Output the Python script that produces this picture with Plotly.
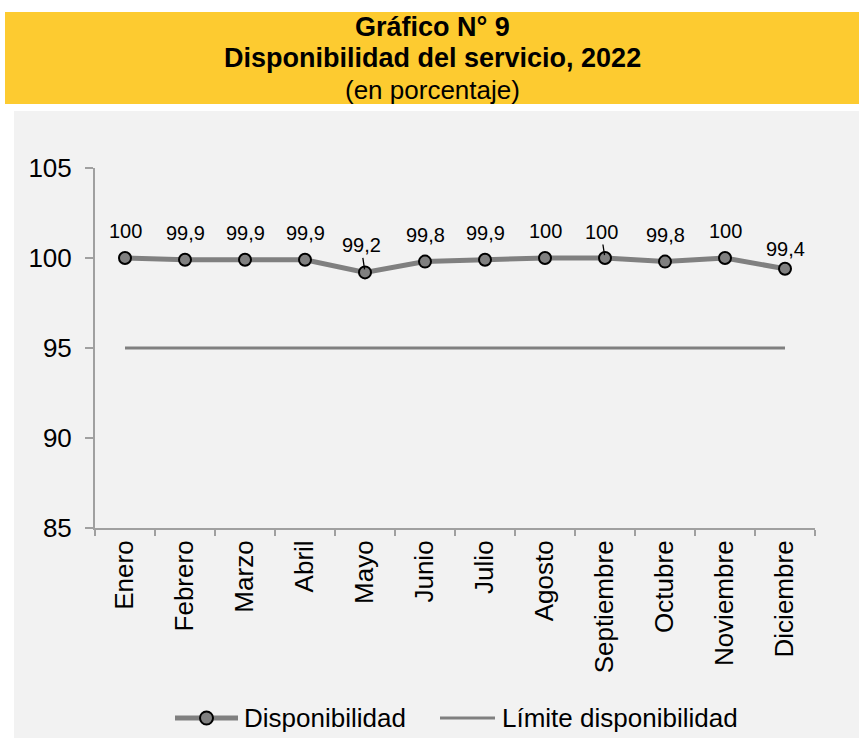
import plotly.graph_objects as go

# Monthly service availability, 2022 (percent)
meses = ["Enero", "Febrero", "Marzo", "Abril", "Mayo", "Junio", "Julio",
         "Agosto", "Septiembre", "Octubre", "Noviembre", "Diciembre"]
disponibilidad = [100, 99.9, 99.9, 99.9, 99.2, 99.8, 99.9, 100, 100, 99.8, 100, 99.4]
limite = [95, 95, 95, 95, 95, 95, 95, 95, 95, 95, 95, 95]
y_ticks = [85, 90, 95, 100, 105]

W, H = 859, 738
ML, MR, MT, MB = 95, 44, 168, 210
PW, PH = W - ML - MR, H - MT - MB


def px(x):
    return (x - ML) / PW


def py(y):
    return (H - MB - y) / PH


FONT = "Liberation Sans, Arial, sans-serif"
GRIS = "#808080"
AMARILLO = "#FDCB30"
FONDO = "#F2F2F2"
EJE = "#A0A0A0"

fig = go.Figure()
fig.add_trace(go.Scatter(
    x=meses, y=limite, name="Límite disponibilidad",
    mode="lines", line=dict(color=GRIS, width=3), showlegend=False,
))
fig.add_trace(go.Scatter(
    x=meses, y=disponibilidad, name="Disponibilidad",
    mode="lines+markers",
    line=dict(color=GRIS, width=5),
    marker=dict(size=12, color=GRIS, line=dict(color="#000000", width=2)),
    cliponaxis=False, showlegend=False,
))

annotations = []

# value labels above each point; two of them hang on a short leader line
leaders = {"Mayo": (-4, -27), "Septiembre": (-4, -26)}
for mes, v in zip(meses, disponibilidad):
    label = f"{v:g}".replace(".", ",")
    if mes in leaders:
        ax, ay = leaders[mes]
        annotations.append(dict(
            x=mes, y=v, text=label, showarrow=True, arrowhead=0,
            arrowwidth=1.3, arrowcolor="#000000", ax=ax, ay=ay, standoff=3,
            font=dict(family=FONT, size=20, color="#000000"),
        ))
    else:
        shift = 20 if mes == "Diciembre" else 27
        annotations.append(dict(
            x=mes, y=v, text=label, showarrow=False, yshift=shift,
            font=dict(family=FONT, size=20, color="#000000"),
        ))

cx = px(432)
annotations += [
    dict(text="<b>Gráfico N° 9</b>", x=cx, y=py(27), xref="paper", yref="paper",
         showarrow=False, font=dict(family=FONT, size=27, color="#000000"),
         xanchor="center", yanchor="middle"),
    dict(text="<b>Disponibilidad del servicio, 2022</b>", x=cx, y=py(58),
         xref="paper", yref="paper", showarrow=False,
         font=dict(family=FONT, size=27, color="#000000"),
         xanchor="center", yanchor="middle"),
    dict(text="(en porcentaje)", x=cx, y=py(90), xref="paper", yref="paper",
         showarrow=False, font=dict(family=FONT, size=26, color="#000000"),
         xanchor="center", yanchor="middle"),
]

# legend entries
LY = py(718)
annotations += [
    dict(text="Disponibilidad", x=px(242), y=LY, xref="paper", yref="paper",
         showarrow=False, xanchor="left", yanchor="middle",
         font=dict(family=FONT, size=26, color="#000000")),
    dict(text="Límite disponibilidad", x=px(500), y=LY, xref="paper",
         yref="paper", showarrow=False, xanchor="left", yanchor="middle",
         font=dict(family=FONT, size=26, color="#000000")),
]

shapes = [
    # grey chart panel
    dict(type="rect", xref="paper", yref="paper", layer="below",
         x0=px(14), x1=px(W + 5), y0=py(H + 5), y1=py(111),
         fillcolor=FONDO, line=dict(width=0)),
    # yellow title banner
    dict(type="rect", xref="paper", yref="paper", layer="below",
         x0=px(5), x1=px(W + 5), y0=py(104), y1=py(12),
         fillcolor=AMARILLO, line=dict(width=0)),
    # legend symbols
    dict(type="line", xref="paper", yref="paper", x0=px(175), x1=px(238),
         y0=LY, y1=LY, line=dict(color=GRIS, width=5)),
    dict(type="circle", xref="paper", yref="paper",
         x0=px(200), x1=px(213), y0=py(724.5), y1=py(711.5),
         fillcolor=GRIS, line=dict(color="#000000", width=2)),
    dict(type="line", xref="paper", yref="paper", x0=px(440), x1=px(495),
         y0=LY, y1=LY, line=dict(color=GRIS, width=3)),
]

fig.update_layout(
    width=W, height=H,
    margin=dict(l=ML, r=MR, t=MT, b=MB, autoexpand=False),
    paper_bgcolor="#FFFFFF", plot_bgcolor=FONDO,
    font=dict(family=FONT, color="#000000"),
    shapes=shapes, annotations=annotations,
    showlegend=False,
)

fig.update_xaxes(
    type="category", range=[-0.5, len(meses) - 0.5],
    showline=True, linecolor=EJE, linewidth=2,
    ticks="outside", tickson="boundaries", ticklen=6, tickwidth=2,
    tickcolor=EJE, tickangle=-90,
    tickfont=dict(family=FONT, size=26, color="#000000"),
    showgrid=False, zeroline=False,
)
fig.update_yaxes(
    range=[85, 105], tickvals=y_ticks, ticktext=[str(t) for t in y_ticks],
    showline=True, linecolor=EJE, linewidth=2,
    ticks="outside", ticklen=8, tickwidth=2, tickcolor=EJE,
    ticklabelstandoff=8,
    tickfont=dict(family=FONT, size=26, color="#000000"),
    showgrid=False, zeroline=False,
)

fig.write_html("out.html")
